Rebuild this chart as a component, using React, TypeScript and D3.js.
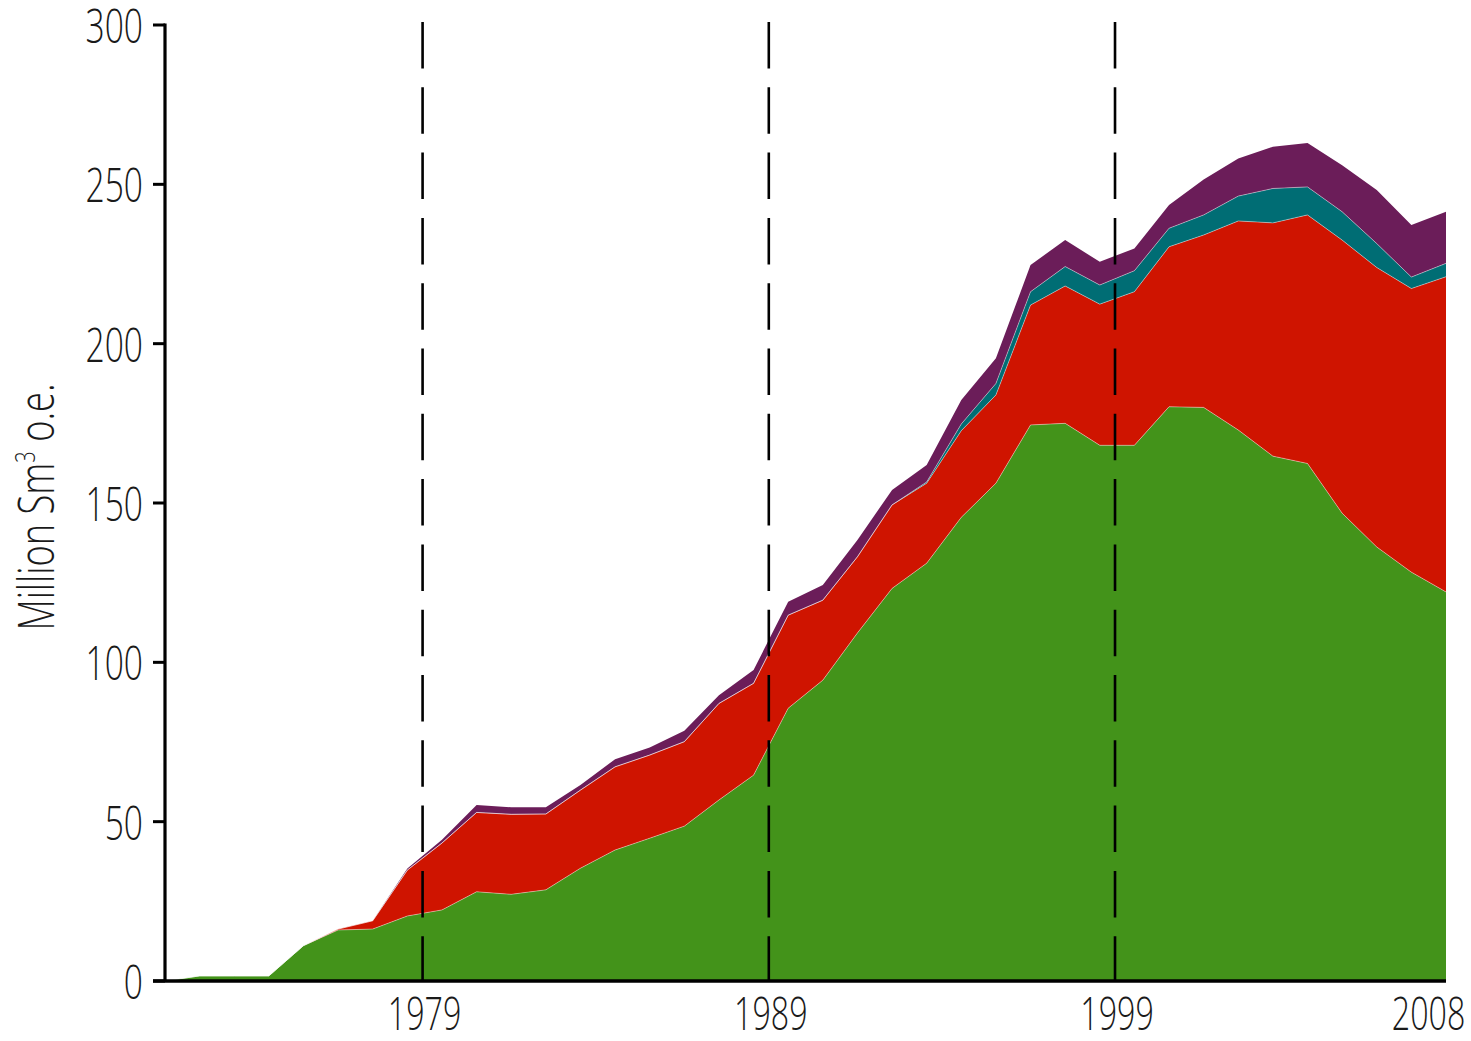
import React from 'react';
import * as d3 from 'd3';

// production years, one value per year (Million Sm3 o.e.)
const years = d3.range(1971, 2009);

const oil = [0, 1.6, 1.6, 1.6, 11.1, 16.0, 16.3, 20.4, 22.3, 28.0, 27.2, 28.6, 35.4, 41.1, 44.8, 48.6, 56.8, 64.6, 85.6, 94.4,
  109.2, 123.2, 131.1, 145.5, 156.2, 174.5, 175.0, 168.1, 168.1, 180.2, 180.0, 172.9, 164.7, 162.4, 146.8, 136.2, 128.3, 122.1];
const gas = [0, 0, 0, 0, 0, 0.3, 2.6, 14.4, 21.0, 24.9, 25.1, 23.8, 24.5, 26.1, 26.1, 26.5, 30.3, 28.8, 29.2, 25.1,
  23.9, 26.2, 25.1, 27.2, 27.7, 37.6, 43.1, 44.3, 48.2, 50.2, 54.1, 65.6, 73.2, 78.0, 85.7, 87.7, 89.0, 98.9];
const condensate = [0, 0, 0, 0, 0, 0, 0, 0, 0, 0, 0, 0, 0, 0, 0, 0, 0, 0, 0, 0,
  0, 0, 0.4, 2.1, 3.6, 4.2, 6.1, 6.0, 6.6, 5.8, 6.3, 7.8, 10.8, 8.8, 8.9, 7.5, 3.6, 4.2];
const ngl = [0, 0, 0, 0, 0, 0, 0, 0.5, 1.0, 2.3, 2.2, 2.1, 1.6, 2.4, 2.4, 3.4, 2.6, 4.2, 4.2, 4.8,
  5.3, 4.7, 5.3, 7.5, 7.9, 8.4, 8.3, 7.3, 7.0, 7.3, 11.1, 11.8, 13.1, 13.8, 14.6, 16.8, 16.3, 16.2];

const seriesKeys = ['oil', 'gas', 'condensate', 'ngl'];
const seriesColors = ['#43931a', '#cf1400', '#006d74', '#6b1d59'];

const yTicks = [0, 50, 100, 150, 200, 250, 300];
const xTicks = [1979, 1989, 1999, 2008];
const dashedYears = [1979, 1989, 1999];
// labels / dashed lines sit a little before the data point of the same year
const TICK_SHIFT = 0.56;

const FONT = "'Open Sans', 'DejaVu Sans', sans-serif";

const Label = ({ x, y, anchor, size, rotate, squeeze = 0.7, children }: any) => (
  <g transform={`translate(${x},${y}) rotate(${rotate || 0}) scale(${squeeze},1)`}>
    <text textAnchor={anchor} fontFamily={FONT} fontWeight={350} fontSize={size} fill="#1a1a1a">
      {children}
    </text>
  </g>
);

export default function App() {
  const width = 1471;
  const height = 1041;

  const x = d3.scaleLinear().domain([1971, 2008]).range([165, 1446]);
  const y = d3.scaleLinear().domain([0, 300]).range([981, 25]);

  const table = years.map((yr, i) => ({
    year: yr,
    oil: oil[i],
    gas: gas[i],
    condensate: condensate[i],
    ngl: ngl[i],
  }));

  const stacked = d3.stack<any>().keys(seriesKeys)(table);

  const area = d3
    .area<any>()
    .x((d) => x(d.data.year))
    .y0((d) => y(d[0]))
    .y1((d) => y(d[1]));

  const topLine = d3
    .line<any>()
    .x((d) => x(d.data.year))
    .y((d) => y(d[1]));

  return (
    <svg width={width} height={height} style={{ position: 'absolute', left: 0, top: 0, background: '#fff' }}>
      {stacked.map((s, i) => (
        <path key={seriesKeys[i]} d={area(s) || ''} fill={seriesColors[i]} />
      ))}
      {stacked.slice(0, 3).map((s, i) => (
        <path key={'sep' + i} d={topLine(s) || ''} fill="none" stroke="#ffffff" strokeOpacity={0.45} strokeWidth={0.9} />
      ))}

      {dashedYears.map((yr) => (
        <line
          key={'dash' + yr}
          x1={x(yr - TICK_SHIFT)}
          x2={x(yr - TICK_SHIFT)}
          y1={22}
          y2={y(0)}
          stroke="#000"
          strokeWidth={2.6}
          strokeDasharray="46.5,18.8"
        />
      ))}

      {/* y axis */}
      <line x1={165} x2={165} y1={y(300) - 1.5} y2={y(0)} stroke="#000" strokeWidth={3.2} />
      {yTicks.map((t) => (
        <g key={'yt' + t}>
          <line x1={153} x2={165} y1={y(t)} y2={y(t)} stroke="#000" strokeWidth={3} />
          <Label x={143} y={y(t) + 18} anchor="end" size={48}>
            {t}
          </Label>
        </g>
      ))}

      {/* x axis */}
      <line x1={153} x2={x(2008)} y1={y(0)} y2={y(0)} stroke="#000" strokeWidth={3.5} />
      {xTicks.map((t) => (
        <Label key={'xt' + t} x={x(t - TICK_SHIFT) + 2} y={1030} anchor="middle" size={46}>
          {t}
        </Label>
      ))}

      <Label x={54} y={507} anchor="middle" size={49} squeeze={0.74} rotate={-90}>
        Million Sm<tspan fontSize={27} dy={-19}>3</tspan>
        <tspan dy={19}> o.e.</tspan>
      </Label>
    </svg>
  );
}
